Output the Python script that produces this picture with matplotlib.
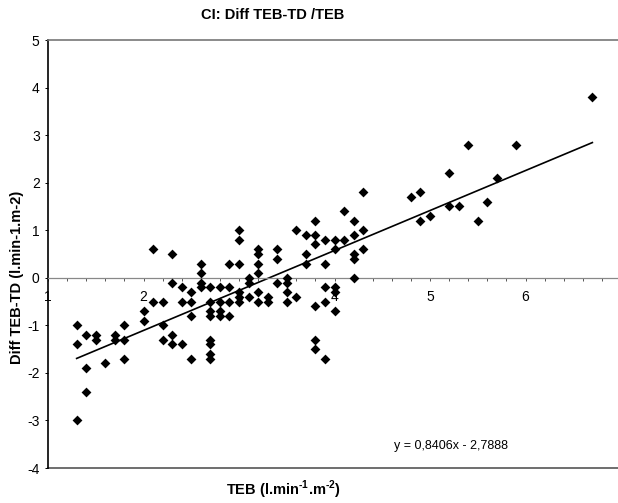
import matplotlib
matplotlib.use('Agg')
import matplotlib.pyplot as plt
from matplotlib.ticker import MultipleLocator
import numpy as np

plt.rcParams['font.family'] = ['Liberation Sans', 'DejaVu Sans']
plt.rcParams['axes.unicode_minus'] = False
plt.rcParams['mathtext.fontset'] = 'custom'
plt.rcParams['mathtext.rm'] = 'Liberation Sans:bold'
plt.rcParams['mathtext.bf'] = 'Liberation Sans:bold'

# TEB values (x) and the matching TEB-TD differences (y)
teb = [1.3, 1.3, 1.3,
       1.4, 1.4, 1.4,
       1.5, 1.5,
       1.6,
       1.7, 1.7,
       1.8, 1.8, 1.8,
       2.0, 2.0,
       2.1, 2.1,
       2.2, 2.2, 2.2,
       2.3, 2.3, 2.3, 2.3,
       2.4, 2.4, 2.4,
       2.5, 2.5, 2.5, 2.5,
       2.6, 2.6, 2.6, 2.6,
       2.7, 2.7, 2.7, 2.7, 2.7, 2.7, 2.7, 2.7,
       2.8, 2.8, 2.8, 2.8,
       2.9, 2.9, 2.9, 2.9,
       3.0, 3.0, 3.0, 3.0, 3.0, 3.0,
       3.1, 3.1, 3.1,
       3.2, 3.2, 3.2, 3.2, 3.2, 3.2,
       3.3, 3.3,
       3.4, 3.4, 3.4,
       3.5, 3.5, 3.5, 3.5,
       3.6, 3.6,
       3.7, 3.7, 3.7,
       3.8, 3.8, 3.8, 3.8, 3.8, 3.8,
       3.9, 3.9, 3.9, 3.9, 3.9,
       4.0, 4.0, 4.0, 4.0, 4.0,
       4.1, 4.1,
       4.2, 4.2, 4.2, 4.2, 4.2,
       4.3, 4.3, 4.3,
       4.8,
       4.9, 4.9,
       5.0,
       5.2, 5.2,
       5.3,
       5.4,
       5.5,
       5.6,
       5.7,
       5.9,
       6.7]
diff = [-1.0, -1.4, -3.0,
        -1.2, -1.9, -2.4,
        -1.2, -1.3,
        -1.8,
        -1.2, -1.3,
        -1.0, -1.3, -1.7,
        -0.7, -0.9,
        0.6, -0.5,
        -0.5, -1.0, -1.3,
        0.5, -0.1, -1.2, -1.4,
        -0.2, -0.5, -1.4,
        -0.3, -0.5, -0.8, -1.7,
        0.3, 0.1, -0.1, -0.2,
        -0.2, -0.5, -0.7, -0.8, -1.3, -1.4, -1.6, -1.7,
        -0.2, -0.5, -0.7, -0.8,
        0.3, -0.2, -0.5, -0.8,
        1.0, 0.8, 0.3, -0.3, -0.4, -0.5,
        0.0, -0.1, -0.4,
        0.6, 0.5, 0.3, 0.1, -0.3, -0.5,
        -0.4, -0.5,
        0.6, 0.4, -0.1,
        0.0, -0.1, -0.3, -0.5,
        1.0, -0.4,
        0.9, 0.5, 0.3,
        1.2, 0.9, 0.7, -0.6, -1.3, -1.5,
        0.8, 0.3, -0.2, -0.5, -1.7,
        0.8, 0.6, -0.2, -0.3, -0.7,
        1.4, 0.8,
        1.2, 0.9, 0.5, 0.4, 0.0,
        1.8, 1.0, 0.6,
        1.7,
        1.8, 1.2,
        1.3,
        2.2, 1.5,
        1.5,
        2.8,
        1.2,
        1.6,
        2.1,
        2.8,
        3.8]

# linear trend shown on the chart
slope = 0.8406
intercept = -2.7888

x_ticks = [1, 2, 3, 4, 5, 6]
y_ticks = [-4, -3, -2, -1, 0, 1, 2, 3, 4, 5]

W, H = 618, 503
fig = plt.figure(figsize=(W / 100, H / 100), dpi=100)
ax = fig.add_axes([48 / W, 35 / H, 573 / W, 428 / H])

teb = np.array(teb)
ax.scatter(teb, diff, marker='D', s=25, color='black', zorder=3, linewidths=0)

xs = np.array([teb.min(), teb.max()])
ax.plot(xs, slope * xs + intercept, color='black', lw=1.2, zorder=2)

ax.set_xlim(1, 7)
ax.set_ylim(-4, 5)

# x axis sits on the zero line
ax.spines['bottom'].set_position(('data', 0))
ax.spines['bottom'].set_color('#888888')
ax.spines['bottom'].set_linewidth(0.9)
ax.spines['right'].set_visible(False)
ax.spines['top'].set_color('#777777')
ax.spines['top'].set_linewidth(1.2)
ax.spines['left'].set_color('black')
ax.spines['left'].set_linewidth(1.2)
ax.axhline(-4, color='#555555', lw=1.2, clip_on=False, zorder=1)

ax.set_xticks(x_ticks)
ax.xaxis.set_minor_locator(MultipleLocator(0.2))
ax.tick_params(axis='x', which='both', direction='out', length=2.5, width=0.7,
               color='#555555', pad=6, labelsize=10)
ax.set_yticks(y_ticks)
ax.tick_params(axis='y', direction='out', length=2, width=0.7, pad=4, labelsize=10)

fig.text(273 / W, 1 - 15 / H, 'CI: Diff TEB-TD /TEB', ha='center', va='center',
         fontsize=10.5, fontweight='bold')
fig.text(17 / W, 1 - 277 / H, 'Diff TEB-TD (l.min-1.m-2)', ha='center', va='center',
         rotation=90, fontsize=10.5, fontweight='bold')
fig.text(283 / W, 1 - 490 / H, 'TEB (l.min$^{\\text{-1}}$.m$^{\\text{-2}}$)',
         ha='center', va='center', fontsize=10.5, fontweight='bold')
fig.text(508 / W, 1 - 446 / H, 'y = 0,8406x - 2,7888', ha='right', va='center',
         fontsize=9)

fig.savefig('out.png', dpi=100)
